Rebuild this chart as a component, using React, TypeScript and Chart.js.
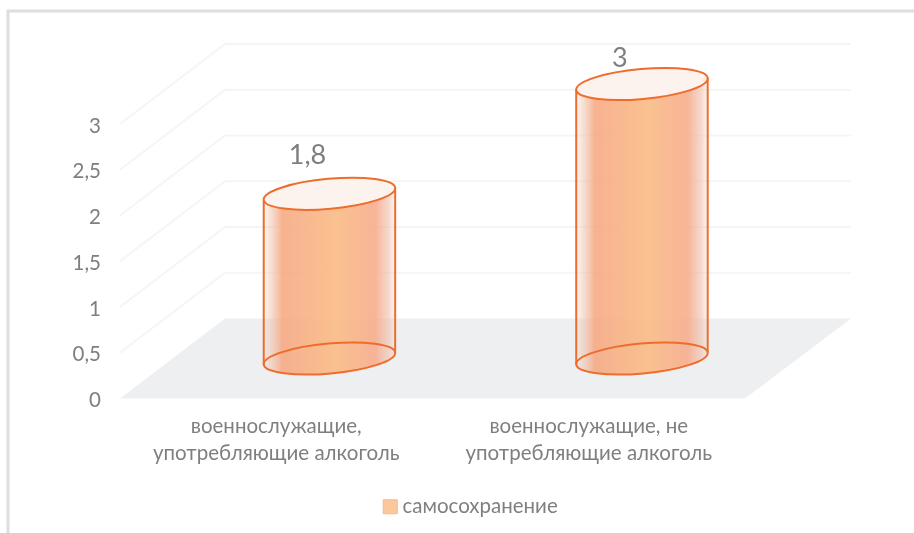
import React, { useEffect, useRef } from "react";
import { Chart, registerables } from "chart.js";

Chart.register(...registerables);

const categories: string[][] = [
  ["военнослужащие,", "употребляющие алкоголь"],
  ["военнослужащие, не", "употребляющие алкоголь"],
];
const seriesName = "самосохранение";
const seriesValues = [1.8, 3];
const tickValues = [0, 0.5, 1, 1.5, 2, 2.5, 3];

const FONT = "Lato, 'Open Sans', 'Noto Sans', sans-serif";
const TEXT = "#7f7f7f";
const DEPTH_X = 105;
const DEPTH_Y = -80;
const STROKE = "#ee6c2c";

const fmt = (v: number) => String(v).replace(".", ",");

const scene = {
  id: "scene",
  beforeDraw(chart: any) {
    const { ctx, width, height } = chart;
    ctx.save();
    ctx.fillStyle = "#fff";
    ctx.fillRect(0, 0, width, height);
    ctx.strokeStyle = "#dedede";
    ctx.lineWidth = 3;
    ctx.beginPath();
    ctx.moveTo(8, height);
    ctx.lineTo(8, 11);
    ctx.lineTo(width, 11);
    ctx.stroke();
    ctx.restore();
  },
  beforeDatasetsDraw(chart: any) {
    const { ctx, chartArea, scales } = chart;
    const { left, right } = chartArea;
    const y0 = scales.y.getPixelForValue(0);
    ctx.save();
    ctx.fillStyle = "#eeeff1";
    ctx.beginPath();
    ctx.moveTo(left, y0);
    ctx.lineTo(left + DEPTH_X, y0 + DEPTH_Y);
    ctx.lineTo(right + DEPTH_X + 1, y0 + DEPTH_Y);
    ctx.lineTo(right, y0);
    ctx.closePath();
    ctx.fill();
    ctx.strokeStyle = "#f5f5f5";
    ctx.lineWidth = 2;
    for (const t of tickValues) {
      if (t === 0) continue;
      const py = scales.y.getPixelForValue(t);
      ctx.beginPath();
      ctx.moveTo(left, py);
      ctx.lineTo(left + DEPTH_X, py + DEPTH_Y);
      ctx.lineTo(right + DEPTH_X + 1, py + DEPTH_Y);
      ctx.stroke();
    }
    ctx.restore();
  },
  beforeDatasetDraw(chart: any, args: any) {
    const { ctx } = chart;
    const meta = chart.getDatasetMeta(args.index);
    const ds = chart.data.datasets[args.index];
    meta.data.forEach((bar: any, i: number) => {
      const cx = bar.x + DEPTH_X / 2 + 0.7;
      const top = bar.y + DEPTH_Y / 2;
      const base = bar.base + DEPTH_Y / 2;
      const a = bar.width / 2;
      const b = 15;
      const rot = -0.09;
      const hw = a * Math.cos(rot);
      const ds6 = a * Math.sin(-rot);

      const g = ctx.createLinearGradient(cx - hw, 0, cx + hw, 0);
      g.addColorStop(0, "rgba(238,190,170,0.15)");
      g.addColorStop(0.06, "rgba(240,185,160,0.5)");
      g.addColorStop(0.14, "rgba(246,165,125,0.85)");
      g.addColorStop(0.55, "rgba(250,190,138,0.95)");
      g.addColorStop(0.85, "rgba(247,172,140,0.9)");
      g.addColorStop(0.95, "rgba(240,190,170,0.6)");
      g.addColorStop(1, "rgba(238,205,190,0.2)");

      ctx.save();
      ctx.beginPath();
      ctx.moveTo(cx - hw, top + ds6);
      ctx.lineTo(cx - hw, base + ds6);
      ctx.ellipse(cx, base, a, b, rot, Math.PI, 0, true);
      ctx.lineTo(cx + hw, top - ds6);
      ctx.ellipse(cx, top, a, b, rot, 0, Math.PI, false);
      ctx.closePath();
      ctx.fillStyle = g;
      ctx.fill();

      ctx.strokeStyle = STROKE;
      ctx.lineWidth = 2;
      ctx.beginPath();
      ctx.moveTo(cx - hw, top + ds6);
      ctx.lineTo(cx - hw, base + ds6);
      ctx.moveTo(cx + hw, top - ds6);
      ctx.lineTo(cx + hw, base - ds6);
      ctx.stroke();

      ctx.beginPath();
      ctx.ellipse(cx, base, a, b, rot, 0, Math.PI * 2);
      ctx.stroke();

      ctx.beginPath();
      ctx.ellipse(cx, top, a, b, rot, 0, Math.PI * 2);
      ctx.fillStyle = "#fcf3ef";
      ctx.fill();
      ctx.stroke();

      ctx.fillStyle = TEXT;
      ctx.font = `27px ${FONT}`;
      ctx.textAlign = "center";
      ctx.textBaseline = "middle";
      ctx.fillText(fmt(ds.data[i]), cx - 22, Math.max(top - 39, 58));
      ctx.restore();
    });
    return false;
  },
};

export default function App() {
  const ref = useRef<HTMLCanvasElement>(null);
  useEffect(() => {
    document.body.style.margin = "0";
    const chart = new Chart(ref.current as HTMLCanvasElement, {
      type: "bar",
      data: {
        labels: categories as any,
        datasets: [
          {
            label: seriesName,
            data: seriesValues,
            backgroundColor: "#fcc79b",
            borderColor: "#f6b98a",
            borderWidth: 1,
            barPercentage: 132 / 312.5,
            categoryPercentage: 1,
          },
        ],
      },
      options: {
        responsive: false,
        animation: false,
        layout: { padding: { top: 124, left: 32, right: 0, bottom: 6 } },
        plugins: {
          tooltip: { enabled: false },
          legend: {
            position: "bottom",
            labels: {
              usePointStyle: true,
              pointStyle: "rect",
              boxWidth: 4,
              boxHeight: 14,
              color: TEXT,
              font: { family: FONT, size: 20.5 },
              padding: 10,
            },
          },
        },
        scales: {
          x: {
            grid: { display: false },
            border: { display: false },
            ticks: {
              color: TEXT,
              font: { family: FONT, size: 20.5, lineHeight: 1.32 },
              padding: 6,
              maxRotation: 0,
              autoSkip: false,
            },
            afterFit(s: any) {
              s.height = 88;
            },
          },
          y: {
            min: 0,
            max: 3,
            grid: { display: false },
            border: { display: false },
            ticks: {
              stepSize: 0.5,
              color: TEXT,
              font: { family: FONT, size: 20.5 },
              padding: 11,
              labelOffset: 2,
              callback: (v: any) => fmt(Number(v)),
            },
            afterFit(s: any) {
              s.width = 88;
            },
          },
          spacer: {
            position: "right",
            grid: { display: false },
            border: { display: false },
            ticks: { display: false },
            afterFit(s: any) {
              s.width = 169;
            },
          },
        },
      },
      plugins: [scene],
    } as any);
    return () => chart.destroy();
  }, []);
  return <canvas ref={ref} width={914} height={533} style={{ display: "block" }} />;
}
